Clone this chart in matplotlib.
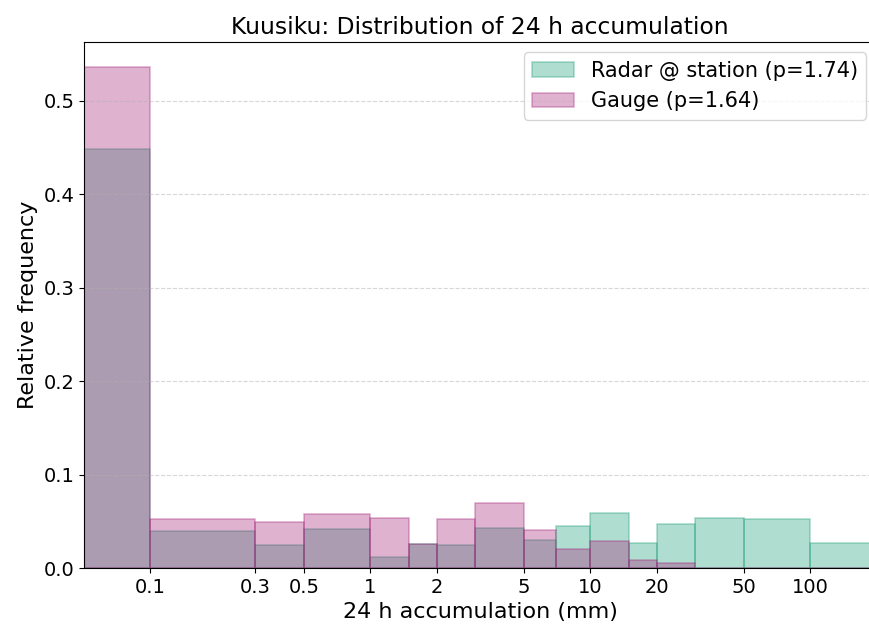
import numpy as np
import matplotlib.pyplot as plt
from matplotlib.ticker import NullLocator

station = "Kuusiku"

# bin edges of 24 h accumulation (mm)
bin_edges = [0.05, 0.1, 0.3, 0.5, 1, 1.5, 2, 3, 5, 7, 10, 15, 20, 30, 50, 100, 200]

# relative frequency per bin
freq_radar = [0.448, 0.040, 0.025, 0.042, 0.012, 0.026, 0.025, 0.043, 0.030,
              0.0445, 0.059, 0.027, 0.047, 0.054, 0.052, 0.027]
freq_gauge = [0.536, 0.052, 0.049, 0.058, 0.053, 0.026, 0.052, 0.070, 0.041,
              0.020, 0.029, 0.009, 0.005, 0.0, 0.0, 0.0]

p_radar = 1.74
p_gauge = 1.64

tick_vals = [0.1, 0.3, 0.5, 1, 2, 5, 10, 20, 50, 100]
tick_labels = ["0.1", "0.3", "0.5", "1", "2", "5", "10", "20", "50", "100"]

fig = plt.figure(figsize=(8.69, 6.25), dpi=100)
ax = fig.add_axes([0.0967, 0.0912, 0.912, 0.8416])

edges = np.array(bin_edges)
mids = np.sqrt(edges[:-1] * edges[1:])

ax.hist(mids, bins=edges, weights=freq_radar, color="#1b9e77", edgecolor="#1b9e77",
        alpha=0.35, linewidth=1.2, label=f"Radar @ station (p={p_radar:.2f})")
ax.hist(mids, bins=edges, weights=freq_gauge, color="#a62379", edgecolor="#a62379",
        alpha=0.35, linewidth=1.2, label=f"Gauge (p={p_gauge:.2f})")

ax.set_xscale("log")
ax.set_xlim(0.05, 200)
ax.set_xticks(tick_vals)
ax.set_xticklabels(tick_labels)
ax.xaxis.set_minor_locator(NullLocator())

ax.tick_params(labelsize=14)
ax.set_xlabel("24 h accumulation (mm)", fontsize=16)
ax.set_ylabel("Relative frequency", fontsize=16)
ax.set_title(f"{station}: Distribution of 24 h accumulation", fontsize=16.8)
ax.grid(axis="y", linestyle="--", alpha=0.5)
ax.legend(loc="upper right", fontsize=15)

fig.savefig("out.png", dpi=100)
